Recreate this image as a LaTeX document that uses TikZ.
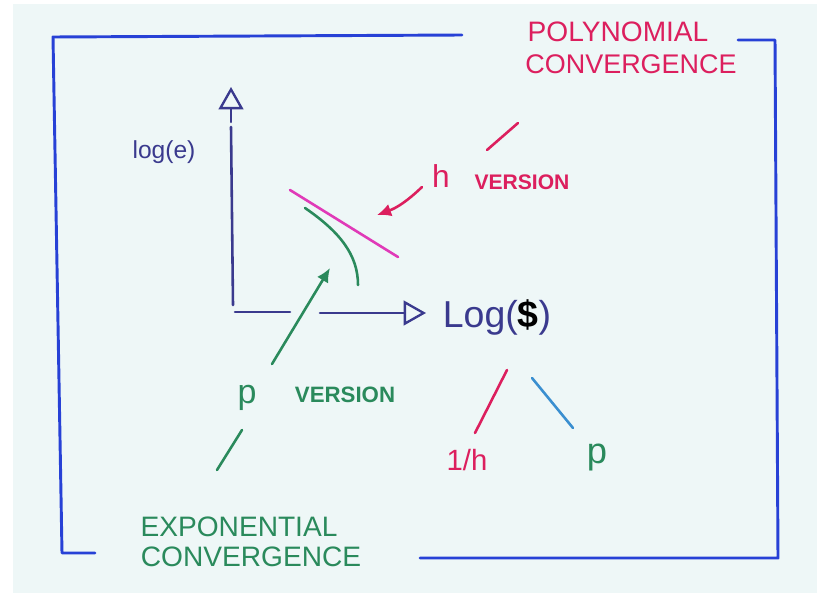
\documentclass[tikz,border=0pt]{standalone}
\usepackage{fontspec}
\setsansfont{Liberation Sans}
\usetikzlibrary{arrows.meta}
\definecolor{paper}{HTML}{EEF7F7}
\definecolor{penblue}{HTML}{2741D6}
\definecolor{ink}{HTML}{3A3A8E}
\definecolor{penpink}{HTML}{DC1F5E}
\definecolor{penmag}{HTML}{E03AB8}
\definecolor{pengreen}{HTML}{2A8A5C}
\definecolor{penlblue}{HTML}{3A8FD0}

\begin{document}
\begin{tikzpicture}[x=0.03cm, y=-0.03cm, font=\sffamily, line cap=round, line join=round,
  pen/.style={line width=2.2pt},
  pinktext/.style={text=penpink, inner sep=0pt},
  greentext/.style={text=pengreen, inner sep=0pt},
  open/.style={-{Triangle[open, length=19pt, width=21pt, line width=2pt]}}]
\useasboundingbox (0,0) rectangle (817,593);
\fill[white] (0,0) rectangle (817,593);
\fill[paper] (13,4) rectangle (817,593);
% frame
\draw[pen, penblue, line width=2.5pt] (462,35) -- (53,37) -- (62,553) -- (95,553);
\draw[pen, penblue, line width=2.5pt] (738,40) -- (775,40) -- (778,558) -- (420,558);
% axes
\coordinate (origin) at (233,305);
\draw[pen, ink] (origin) -- (231,127);
\draw[pen, ink, open] (231,122) -- (231,87);
\draw[pen, ink] (235,312) -- (290,312);
\draw[pen, ink, open] (320,313) -- (426,313);
\node[ink, font=\sffamily\fontsize{21}{21}\selectfont, inner sep=0pt] (loge) at (164,152) {log(e)};
\node[ink, font=\sffamily\fontsize{32}{32}\selectfont, inner sep=0pt] (logd) at (497,317) {Log(\textcolor{black}{\textbf{\$}})};
% curves
\draw[pen, penmag] (290,190) -- (398,257);
\draw[pen, pengreen] (305,208) .. controls (340,232) and (358,255) .. (358,285);
% labels
\node[pinktext, font=\sffamily\fontsize{24}{24}\selectfont] (poly1) at (618,32) {POLYNOMIAL};
\node[pinktext, font=\sffamily\fontsize{23}{23}\selectfont] (poly2) at (631,64) {CONVERGENCE};
\node[pinktext, font=\sffamily\fontsize{27}{27}\selectfont] (hh) at (441,176) {h};
\node[pinktext, font=\sffamily\bfseries\fontsize{18}{18}\selectfont] (hver) at (522,182) {VERSION};
\node[greentext, font=\sffamily\fontsize{29}{29}\selectfont] (pp) at (247,398) {p};
\node[greentext, font=\sffamily\bfseries\fontsize{19}{19}\selectfont] (pver) at (345,395) {VERSION};
\node[greentext, font=\sffamily\fontsize{24}{24}\selectfont] (expo1) at (239,527) {EXPONENTIAL};
\node[greentext, font=\sffamily\fontsize{24}{24}\selectfont] (expo2) at (251,557) {CONVERGENCE};
\node[pinktext, font=\sffamily\fontsize{25}{25}\selectfont] (invh) at (467,460) {1/h};
\node[greentext, font=\sffamily\fontsize{31}{31}\selectfont] (pq) at (597,458) {p};
% pointers
\coordinate (hfrom) at (422,187);
\coordinate (htip) at (377,215);
\coordinate (pfrom) at (272,364);
\coordinate (ptip) at (330,268);
\draw[pen, penpink, -{Latex[length=12pt, width=11pt]}] (hfrom) to[bend left=12] (htip);
\draw[pen, pengreen, -{Latex[length=12pt, width=11pt]}] (pfrom) -- (ptip);
\draw[pen, penpink] (487,150) -- (518,123);
\draw[pen, pengreen] (217,470) -- (242,430);
% split below log($)
\coordinate (ha) at (507,370);
\coordinate (hb) at (475,433);
\coordinate (pa) at (532,378);
\coordinate (pb) at (573,428);
\draw[pen, penpink] (ha) -- (hb);
\draw[pen, penlblue] (pa) -- (pb);
\end{tikzpicture}
\end{document}
